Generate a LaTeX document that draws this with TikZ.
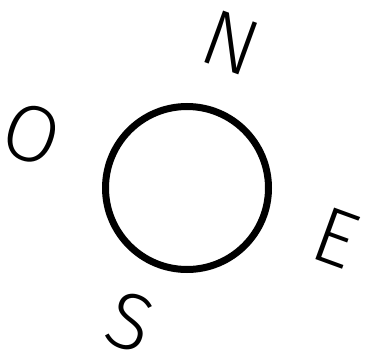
\documentclass[tikz,border=0pt]{standalone}
\usepackage{fontspec}
\setmainfont{Fira Sans Light}
\begin{document}
\begin{tikzpicture}[x=1pt,y=-1pt,
  dirlabel/.style={font=\fontsize{80}{80}\selectfont, rotate=-20, inner sep=0pt, anchor=center}]
\useasboundingbox (0,0) rectangle (369,361);
\node[draw, circle, line width=7pt, minimum size=163pt, inner sep=0pt] (c) at (187,188) {};
\node[dirlabel] (n) at (231,43) {N};
\node[dirlabel] (e) at (336,238) {E};
\node[dirlabel] (s) at (130,322) {S};
\node[dirlabel] (o) at (32,134) {O};
\end{tikzpicture}
\end{document}
